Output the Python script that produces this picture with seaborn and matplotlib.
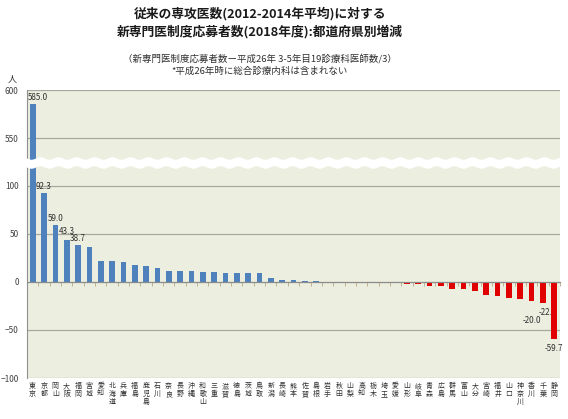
import numpy as np
import matplotlib.pyplot as plt
import seaborn as sns
from matplotlib.patches import Polygon

plt.rcParams['font.family'] = ['Noto Sans CJK JP', 'DejaVu Sans']

# data: increase/decrease per prefecture (new system applicants - old average)
prefectures = ['東京', '京都', '岡山', '大阪', '福岡', '宮城', '愛知', '北海道', '兵庫', '福島',
               '鹿児島', '石川', '奈良', '長野', '沖縄', '和歌山', '三重', '滋賀', '徳島', '茨城',
               '鳥取', '新潟', '長崎', '熊本', '佐賀', '島根', '岩手', '秋田', '山梨', '高知',
               '栃木', '埼玉', '愛媛', '山形', '岐阜', '青森', '広島', '群馬', '富山', '大分',
               '宮崎', '福井', '山口', '神奈川', '香川', '千葉', '静岡']
change = [585.0, 92.3, 59.0, 43.3, 38.7, 36.0, 22.0, 21.7, 21.0, 18.0,
          16.7, 14.0, 11.7, 11.0, 11.0, 10.5, 10.0, 9.7, 9.7, 9.0,
          9.0, 4.3, 2.0, 2.3, 0.7, 0.7, 0.3, -0.7, -0.7, -1.0,
          -1.0, -1.0, -1.3, -1.7, -2.7, -4.3, -4.3, -7.0, -7.7, -9.0,
          -13.7, -14.3, -16.7, -18.3, -20.0, -22.3, -59.7]
labeled = ['東京', '京都', '岡山', '大阪', '福岡', '香川', '千葉', '静岡']

sign = ['増' if v >= 0 else '減' for v in change]
palette = {'増': '#4f81bd', '減': '#e00000'}

W, H = 568, 419
fig = plt.figure(figsize=(W / 100, H / 100), dpi=100)
fig.patch.set_facecolor('white')

y_top, y_brk, y_bot = 90, 163, 378
x_l, x_r = 27, 560

def box(top, bottom):
    return [x_l / W, 1 - bottom / H, (x_r - x_l) / W, (bottom - top) / H]

ax_up = fig.add_axes(box(y_top, y_brk))
ax_lo = fig.add_axes(box(y_brk, y_bot))

for ax in (ax_up, ax_lo):
    sns.barplot(x=prefectures, y=change, hue=sign, palette=palette, order=prefectures,
                dodge=False, legend=False, width=0.5, saturation=1, ax=ax, zorder=3)
    ax.set_facecolor('#eceee0')
    ax.set_xlim(-0.5, len(prefectures) - 0.5)
    ax.yaxis.grid(True, color='#a8a8a0', lw=0.9)
    ax.set_axisbelow(True)
    for s in ['top', 'right', 'bottom']:
        ax.spines[s].set_visible(False)
    ax.spines['left'].set_color('#909090')
    ax.tick_params(axis='y', length=0, pad=6, labelsize=6, labelcolor='#404040')
    ax.set_ylabel('')

ax_up.set_ylim(524, 600)
ax_up.set_yticks([550, 600])
ax_up.set_xticks([])

ax_lo.set_ylim(-100, 123.7)
ax_lo.set_yticks([-100, -50, 0, 50, 100])
ax_lo.spines['bottom'].set_visible(True)
ax_lo.spines['bottom'].set_position(('data', 0))
ax_lo.spines['bottom'].set_color('#8c8c8c')
ax_lo.spines['bottom'].set_zorder(4)
ax_lo.set_xticks(range(len(prefectures)))
ax_lo.set_xticklabels(['\n'.join(p) for p in prefectures], fontsize=5, linespacing=1.0,
                      color='#303030')
ax_lo.set_xticks(np.arange(-0.5, len(prefectures), 1), minor=True)
ax_lo.tick_params(axis='x', which='major', length=0, pad=72)
ax_lo.tick_params(axis='x', which='minor', length=3, color='#b9a887', direction='out')

# value labels
offsets = {'東京': (5, 2), '大阪': (0, 4), '香川': (0, -15), '千葉': (5, -5), '静岡': (0, -5)}
for i, (p, v) in enumerate(zip(prefectures, change)):
    if p not in labeled:
        continue
    ax = ax_up if v > 500 else ax_lo
    dx, dy = offsets.get(p, (0, 2))
    ax.annotate(f'{v:.1f}', (i, v), xytext=(dx, dy), textcoords='offset pixels',
                ha='center', va='bottom' if v > 0 else 'top', fontsize=5.8, color='#303030',
                zorder=2.5)

# wavy break band
xs = np.linspace(x_l - 3, x_r + 1, 300)
wave = 1.3 * np.sin(2 * np.pi * (xs - x_l) / 18)
top_edge = y_brk - 4.5 + wave
bot_edge = y_brk + 4.5 + wave
pts = np.concatenate([np.column_stack([xs, top_edge]),
                      np.column_stack([xs[::-1], bot_edge[::-1]])])
pts_fig = np.column_stack([pts[:, 0] / W, 1 - pts[:, 1] / H])
fig.add_artist(Polygon(pts_fig, closed=True, facecolor='white', edgecolor='none',
                       transform=fig.transFigure, zorder=10))

# titles
cx = 260 / W
fig.text(cx, 1 - 13.5 / H, '従来の専攻医数(2012-2014年平均)に対する', ha='center', va='center',
         fontsize=9.2, fontweight='bold', color='#1a1a1a')
fig.text(cx, 1 - 32 / H, '新専門医制度応募者数(2018年度):都道府県別増減', ha='center', va='center',
         fontsize=9.2, fontweight='bold', color='#1a1a1a')
fig.text(cx, 1 - 59.5 / H, '（新専門医制度応募者数ー平成26年 3-5年目19診療科医師数/3）',
         ha='center', va='center', fontsize=6.8, color='#303030')
fig.text(cx, 1 - 71 / H, '*平成26年時に総合診療内科は含まれない', ha='center', va='center',
         fontsize=6.8, color='#303030')
fig.text(12 / W, 1 - 79 / H, '人', ha='center', va='center', fontsize=6.5, color='#303030')

fig.savefig('out.png', dpi=100, facecolor='white')
